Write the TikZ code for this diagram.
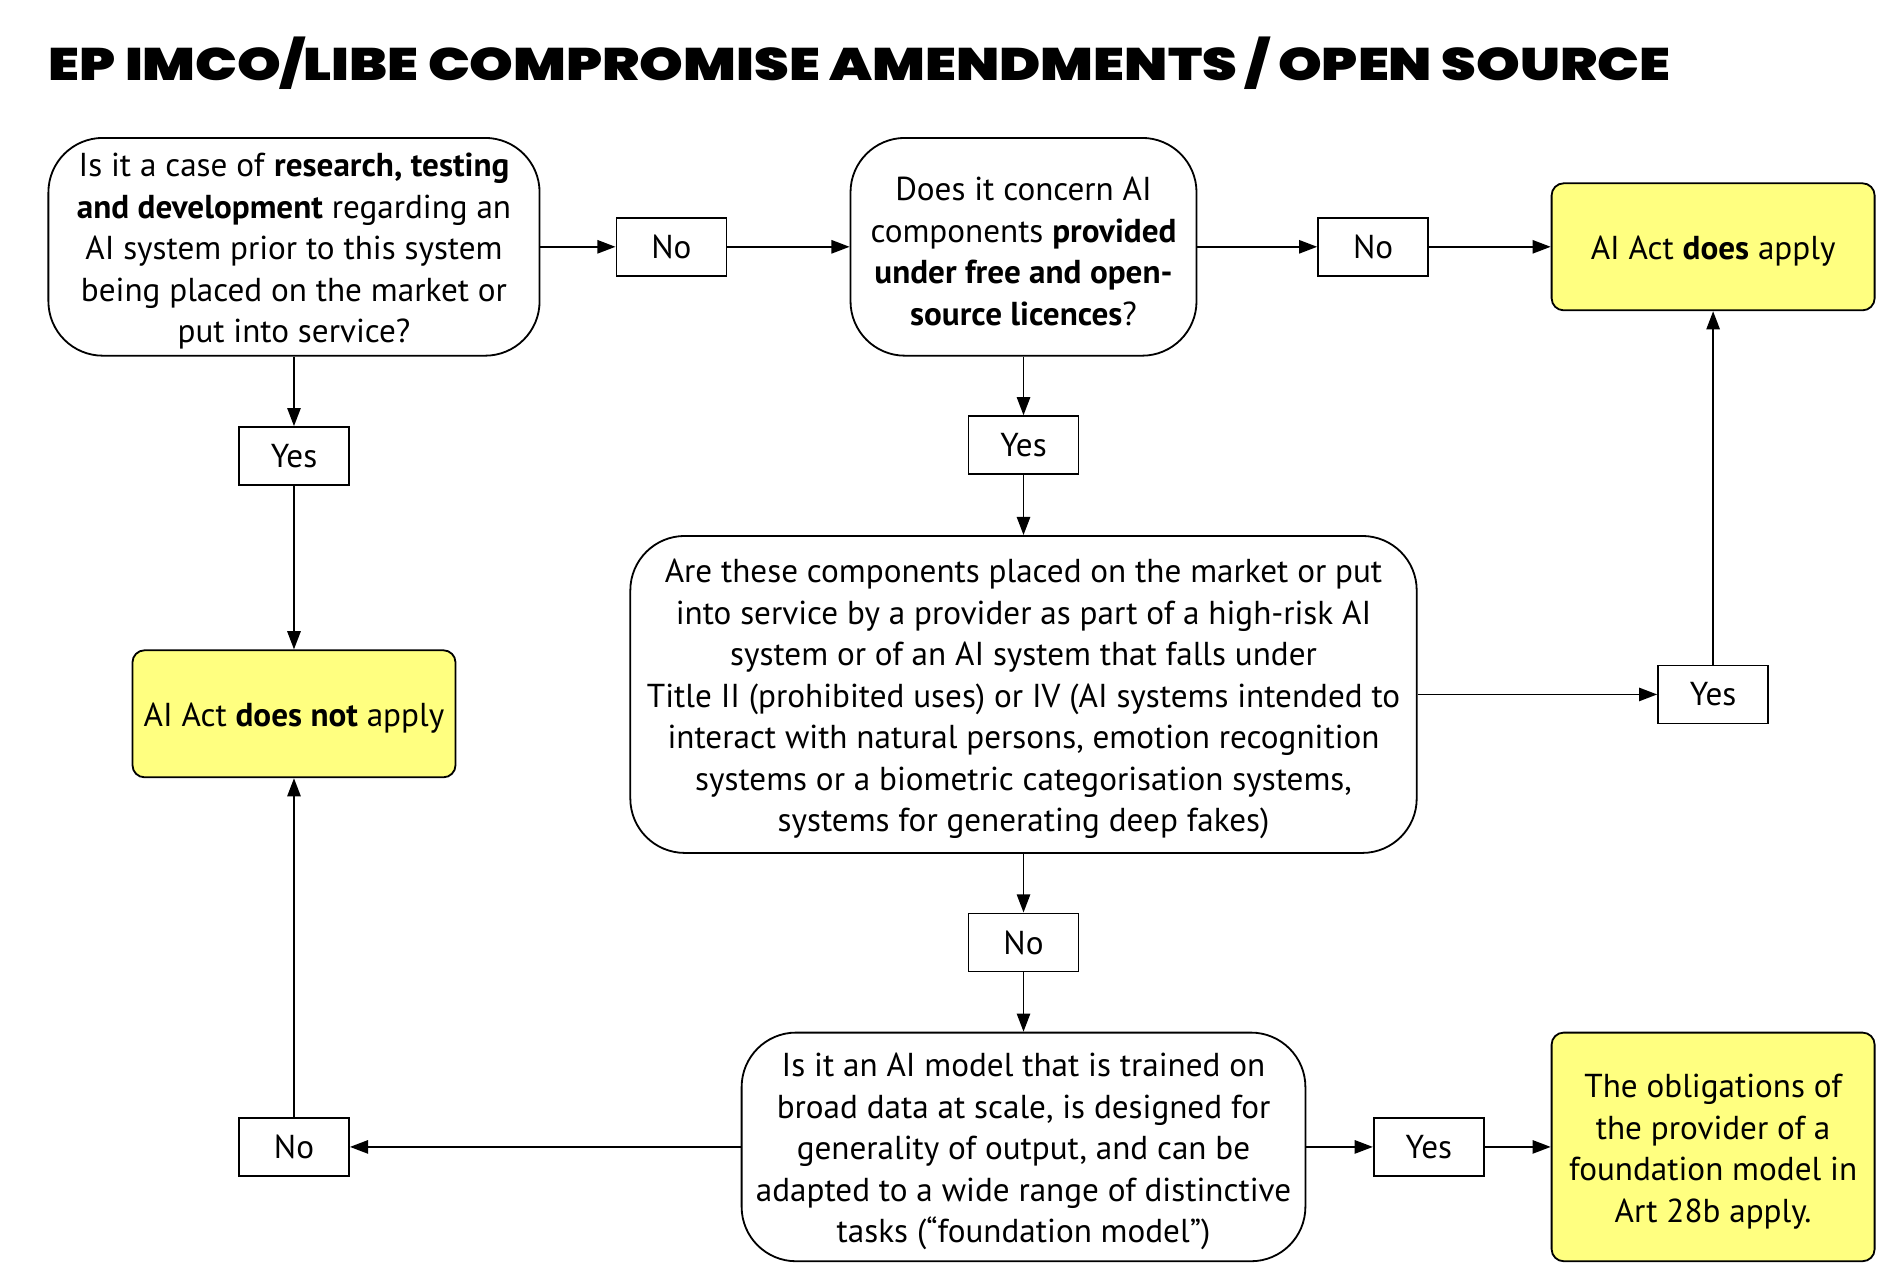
\documentclass[tikz,border=0pt]{standalone}
\usepackage{fontspec}
\setmainfont{PT Sans}
\newfontfamily\titlefont{Poppins Black}
\usetikzlibrary{arrows.meta}
\definecolor{ylw}{HTML}{FFFF80}
\newcommand\tstrut{\rule{0pt}{27pt}}
\begin{document}
\begin{tikzpicture}[x=1pt,y=-1pt,
  base/.style={draw=black,line width=1.5pt,align=center,inner sep=0pt,font=\fontsize{27.4}{34.3}\selectfont},
  qbox/.style={base,rounded corners=45pt,fill=white},
  ybox/.style={base,rounded corners=10pt,fill=ylw},
  lbl/.style={base,minimum width=91pt,minimum height=48pt},
  arr/.style={draw=black,line width=1.5pt,-{Triangle[length=15pt,width=11pt]}}]
\useasboundingbox (0,0) rectangle (1568,1060);
\node[anchor=base west,inner sep=0pt] (title) at (40,66.5) {\resizebox{1340pt}{36pt}{\titlefont EP IMCO/LIBE COMPROMISE AMENDMENTS / OPEN SOURCE}};
\node[qbox,minimum width=406pt,minimum height=180pt] (q1) at (243,204)
  {\tstrut Is it a case of \textbf{research, testing}\\\textbf{and development} regarding an\\AI system prior to this system\\being placed on the market or\\put into service?};
\node[lbl] (no1) at (555,204) {No};
\node[qbox,minimum width=286pt,minimum height=180pt] (q2) at (846,204)
  {\tstrut Does it concern AI\\components \textbf{provided}\\\textbf{under free and open-}\\\textbf{source licences}?};
\node[lbl] (no2) at (1135,204) {No};
\node[ybox,minimum width=267pt,minimum height=105pt] (apply) at (1416,204) {\tstrut AI Act \textbf{does} apply};
\node[lbl] (yes1) at (243,377) {Yes};
\node[ybox,minimum width=267pt,minimum height=105pt] (notapply) at (243,590) {\tstrut AI Act \textbf{does not} apply};
\node[lbl] (yes2) at (846,368) {Yes};
\node[qbox,minimum width=650pt,minimum height=262pt] (q3) at (846,574)
  {\tstrut Are these components placed on the market or put\\into service by a provider as part of a high-risk AI\\system or of an AI system that falls under\\Title II (prohibited uses) or IV (AI systems intended to\\interact with natural persons, emotion recognition\\systems or a biometric categorisation systems,\\systems for generating deep fakes)};
\node[lbl] (yes3) at (1416,574) {Yes};
\node[lbl] (no3) at (846,779) {No};
\node[qbox,minimum width=466pt,minimum height=189pt] (q4) at (846,948)
  {\tstrut Is it an AI model that is trained on\\broad data at scale, is designed for\\generality of output, and can be\\adapted to a wide range of distinctive\\tasks (“foundation model”)};
\node[lbl] (no4) at (243,948) {No};
\node[lbl] (yes4) at (1181,948) {Yes};
\node[ybox,minimum width=267pt,minimum height=189pt] (oblig) at (1416,948)
  {\tstrut The obligations of\\the provider of a\\foundation model in\\Art 28b apply.};
\draw[arr] (q1) -- (no1);
\draw[arr] (no1) -- (q2);
\draw[arr] (q2) -- (no2);
\draw[arr] (no2) -- (apply);
\draw[arr] (q1) -- (yes1);
\draw[arr] (yes1) -- (notapply);
\draw[arr] (q2) -- (yes2);
\draw[arr] (yes2) -- (q3);
\draw[arr] (q3) -- (yes3);
\draw[arr] (yes3) -- (apply);
\draw[arr] (q3) -- (no3);
\draw[arr] (no3) -- (q4);
\draw[arr] (q4) -- (yes4);
\draw[arr] (yes4) -- (oblig);
\draw[arr] (q4) -- (no4);
\draw[arr] (no4) -- (notapply);
\end{tikzpicture}
\end{document}
